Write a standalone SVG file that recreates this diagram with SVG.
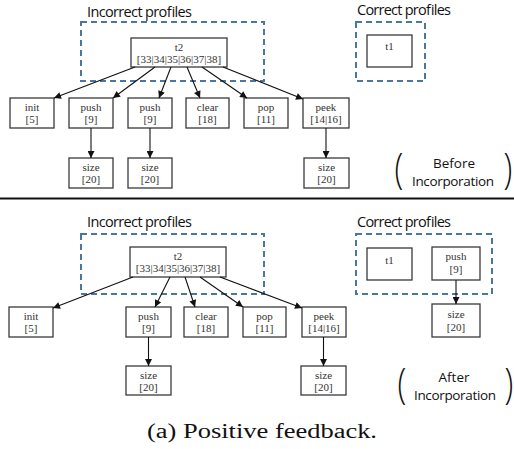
<svg xmlns="http://www.w3.org/2000/svg" width="514" height="449" viewBox="0 0 514 449">
  <style>
    .bg { fill: #ffffff; }
    .node rect { fill: #ffffff; stroke: #3a3a3a; stroke-width: 1.3; }
    .node text { font-family: "Liberation Serif", "Tinos", "DejaVu Serif", serif; font-size: 11px; fill: #333333; text-anchor: middle; }
    .group { fill: none; stroke: #4a76a6; stroke-width: 2; stroke-dasharray: 6 4; }
    .label { font-family: "Open Sans", "Noto Sans", "Liberation Sans", sans-serif; font-size: 14.5px; fill: #111111; }
    .note { font-family: "Open Sans", "Noto Sans", "Liberation Sans", sans-serif; font-size: 13.5px; fill: #111111; text-anchor: middle; }
    .paren { font-family: "Open Sans", "Noto Sans", sans-serif; font-size: 43px; font-weight: 300; fill: #111111; text-anchor: middle; }
    .edges line { stroke: #111111; stroke-width: 1.1; marker-end: url(#arrow); }
    .caption { font-family: "Liberation Serif", "Tinos", "DejaVu Serif", serif; font-size: 20px; fill: #111111; text-anchor: middle; }
  </style>
  <defs>
    <marker id="arrow" viewBox="0 0 10 10" refX="10" refY="5" markerWidth="8" markerHeight="7" markerUnits="userSpaceOnUse" orient="auto">
      <path d="M0,0 L10,5 L0,10 Z" fill="#111111"/>
    </marker>
  </defs>

  <rect class="bg" x="0" y="0" width="514" height="449"/>

  <!-- ===== Upper panel: before incorporation ===== -->
  <g id="before-panel">
    <text class="label" x="87" y="17" textLength="105">Incorrect profiles</text>
    <rect class="group" x="81" y="22" width="183" height="59"/>
    <text class="label" x="357" y="15" textLength="94">Correct profiles</text>
    <rect class="group" x="356" y="22" width="69" height="59"/>

    <g id="b-t2" class="node">
      <rect x="131" y="38" width="96" height="29"/>
      <text x="179" y="51">t2</text>
      <text x="179" y="63">[33|34|35|36|37|38]</text>
    </g>
    <g id="b-t1" class="node">
      <rect x="367" y="35" width="45" height="32"/>
      <text x="389.5" y="50">t1</text>
    </g>
    <g id="b-init" class="node">
      <rect x="10" y="98" width="44" height="30"/>
      <text x="32" y="110.5">init</text>
      <text x="32" y="123">[5]</text>
    </g>
    <g id="b-push1" class="node">
      <rect x="69" y="98" width="44" height="30"/>
      <text x="91" y="110.5">push</text>
      <text x="91" y="123">[9]</text>
    </g>
    <g id="b-push2" class="node">
      <rect x="128" y="98" width="44" height="30"/>
      <text x="150" y="110.5">push</text>
      <text x="150" y="123">[9]</text>
    </g>
    <g id="b-clear" class="node">
      <rect x="186" y="98" width="43" height="30"/>
      <text x="207.5" y="110.5">clear</text>
      <text x="207.5" y="123">[18]</text>
    </g>
    <g id="b-pop" class="node">
      <rect x="244" y="98" width="44" height="30"/>
      <text x="266" y="110.5">pop</text>
      <text x="266" y="123">[11]</text>
    </g>
    <g id="b-peek" class="node">
      <rect x="303" y="98" width="46" height="30"/>
      <text x="326" y="110.5">peek</text>
      <text x="326" y="123">[14|16]</text>
    </g>
    <g id="b-size1" class="node">
      <rect x="69" y="158" width="44" height="30"/>
      <text x="91" y="170.5">size</text>
      <text x="91" y="183">[20]</text>
    </g>
    <g id="b-size2" class="node">
      <rect x="128" y="158" width="44" height="30"/>
      <text x="150" y="170.5">size</text>
      <text x="150" y="183">[20]</text>
    </g>
    <g id="b-size3" class="node">
      <rect x="304" y="158" width="45" height="30"/>
      <text x="326.5" y="170.5">size</text>
      <text x="326.5" y="183">[20]</text>
    </g>

    <g class="paren-note">
      <text class="paren" transform="translate(399,182.5) scale(0.75,1)">(</text>
      <text class="paren" transform="translate(508,182.5) scale(0.75,1)">)</text>
      <text class="note" x="454" y="168">Before</text>
      <text class="note" x="453" y="186" textLength="82">Incorporation</text>
    </g>
  </g>

  <g id="before-edges" class="edges">
    <line x1="135" y1="67" x2="54" y2="98"/>
    <line x1="155" y1="67" x2="113" y2="98"/>
    <line x1="171" y1="67" x2="159" y2="98"/>
    <line x1="187" y1="67" x2="200" y2="98"/>
    <line x1="202" y1="67" x2="247" y2="98"/>
    <line x1="223" y1="67" x2="303" y2="99"/>
    <line x1="91" y1="128" x2="91" y2="158"/>
    <line x1="150" y1="128" x2="150" y2="158"/>
    <line x1="326" y1="128" x2="326" y2="158"/>
  </g>

  <!-- divider -->
  <line x1="0" y1="198.5" x2="514" y2="198.5" stroke="#111111" stroke-width="2"/>

  <!-- ===== Lower panel: after incorporation ===== -->
  <g id="after-panel">
    <text class="label" x="87" y="227" textLength="105">Incorrect profiles</text>
    <rect class="group" x="81" y="234" width="183" height="60"/>
    <text class="label" x="357" y="227" textLength="94">Correct profiles</text>
    <rect class="group" x="356" y="234" width="136" height="60"/>

    <g id="a-t2" class="node">
      <rect x="130" y="247" width="96" height="30"/>
      <text x="178" y="260">t2</text>
      <text x="178" y="272">[33|34|35|36|37|38]</text>
    </g>
    <g id="a-t1" class="node">
      <rect x="367" y="248" width="45" height="32"/>
      <text x="389.5" y="264">t1</text>
    </g>
    <g id="a-push-ok" class="node">
      <rect x="432" y="247" width="48" height="33"/>
      <text x="456" y="260">push</text>
      <text x="456" y="273">[9]</text>
    </g>
    <g id="a-size-ok" class="node">
      <rect x="432" y="304" width="48" height="33"/>
      <text x="456" y="318">size</text>
      <text x="456" y="331">[20]</text>
    </g>
    <g id="a-init" class="node">
      <rect x="9" y="307" width="44" height="30"/>
      <text x="31" y="319.5">init</text>
      <text x="31" y="332">[5]</text>
    </g>
    <g id="a-push" class="node">
      <rect x="126" y="307" width="45" height="30"/>
      <text x="148.5" y="319.5">push</text>
      <text x="148.5" y="332">[9]</text>
    </g>
    <g id="a-clear" class="node">
      <rect x="184" y="307" width="44" height="30"/>
      <text x="206" y="319.5">clear</text>
      <text x="206" y="332">[18]</text>
    </g>
    <g id="a-pop" class="node">
      <rect x="243" y="307" width="43" height="30"/>
      <text x="264.5" y="319.5">pop</text>
      <text x="264.5" y="332">[11]</text>
    </g>
    <g id="a-peek" class="node">
      <rect x="302" y="307" width="44" height="30"/>
      <text x="324" y="319.5">peek</text>
      <text x="324" y="332">[14|16]</text>
    </g>
    <g id="a-size1" class="node">
      <rect x="126" y="366" width="45" height="29"/>
      <text x="148.5" y="378.5">size</text>
      <text x="148.5" y="391">[20]</text>
    </g>
    <g id="a-size2" class="node">
      <rect x="301" y="366" width="45" height="29"/>
      <text x="323.5" y="378.5">size</text>
      <text x="323.5" y="391">[20]</text>
    </g>

    <g class="paren-note">
      <text class="paren" transform="translate(402,397.5) scale(0.75,1)">(</text>
      <text class="paren" transform="translate(509,397.5) scale(0.75,1)">)</text>
      <text class="note" x="454" y="382">After</text>
      <text class="note" x="455" y="400" textLength="82">Incorporation</text>
    </g>
  </g>

  <g id="after-edges" class="edges">
    <line x1="133" y1="277" x2="53" y2="308"/>
    <line x1="170" y1="277" x2="155" y2="307"/>
    <line x1="185" y1="277" x2="195" y2="307"/>
    <line x1="200" y1="277" x2="243" y2="307"/>
    <line x1="220" y1="277" x2="302" y2="308"/>
    <line x1="148.5" y1="337" x2="148.5" y2="366"/>
    <line x1="323.5" y1="337" x2="323.5" y2="366"/>
    <line x1="456" y1="280" x2="456" y2="304"/>
  </g>

  <text class="caption" x="262" y="438" textLength="230" lengthAdjust="spacingAndGlyphs">(a) Positive feedback.</text>
</svg>
